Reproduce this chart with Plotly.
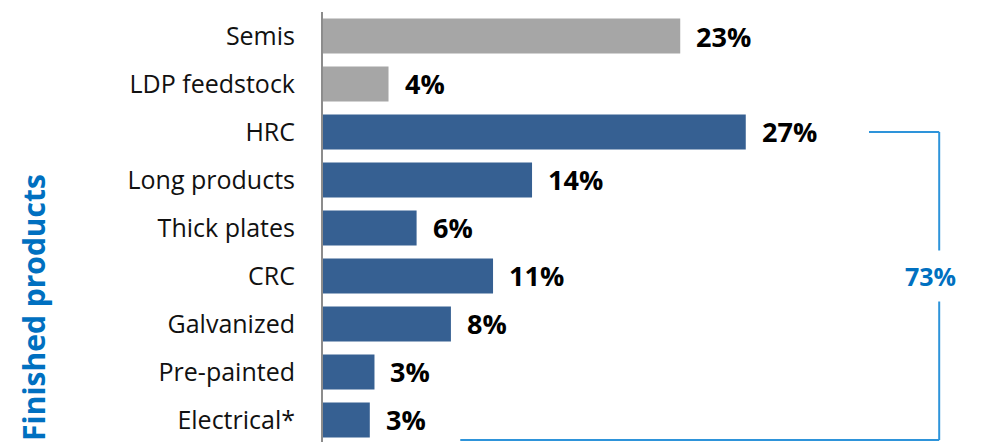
import plotly.graph_objects as go

categories = ["Semis", "LDP feedstock", "HRC", "Long products", "Thick plates",
              "CRC", "Galvanized", "Pre-painted", "Electrical*"]
values = [22.9, 4.2, 27.1, 13.4, 6.0, 10.9, 8.2, 3.3, 3.0]
value_labels = ["23%", "4%", "27%", "14%", "6%", "11%", "8%", "3%", "3%"]
groups = ["other", "other", "fin", "fin", "fin", "fin", "fin", "fin", "fin"]
total_label = "73%"
group_title = "Finished products"

GRAY = "#A6A6A6"
BLUE = "#366092"
LBLUE = "#2E94DA"
TBLUE = "#0070C0"
FONT = "Open Sans"

colors = [GRAY if g == "other" else BLUE for g in groups]

fig = go.Figure()
fig.add_trace(go.Bar(
    y=categories, x=values, orientation="h",
    marker=dict(color=colors, line=dict(width=0)),
    hoverinfo="skip",
))

for c, v, t in zip(categories, values, value_labels):
    fig.add_annotation(x=v, y=c, text=t, xanchor="left", yanchor="middle",
                       xshift=14, showarrow=False,
                       font=dict(family=FONT, size=27, color="#000000", weight="bold"))

# bracket for finished products
first_fin = groups.index("fin")
x_right = 39.5
x_top_left = 35.0
x_bot_left = 8.8
y_bottom = 8.42
line = dict(color=LBLUE, width=2)
fig.add_shape(type="line", x0=x_top_left, x1=x_right, y0=first_fin, y1=first_fin, line=line)
fig.add_shape(type="line", x0=x_right, x1=x_right, y0=first_fin, y1=y_bottom, line=line)
fig.add_shape(type="line", x0=x_bot_left, x1=x_right, y0=y_bottom, y1=y_bottom, line=line)
fig.add_annotation(x=x_right, y=5.0, text=total_label, showarrow=False,
                   xanchor="center", yanchor="middle", bgcolor="white",
                   borderpad=8, xshift=-9,
                   font=dict(family=FONT, size=25, color=TBLUE, weight="bold"))

fig.add_annotation(xref="paper", yref="paper", x=-0.463, y=0.312, text=group_title,
                   textangle=-90, showarrow=False, xanchor="center", yanchor="middle",
                   font=dict(family=FONT, size=30, color=TBLUE, weight="bold"))

fig.update_layout(
    width=987, height=442,
    margin=dict(l=315, r=48, t=4, b=8, pad=0),
    paper_bgcolor="white", plot_bgcolor="white",
    bargap=0.27, showlegend=False,
    xaxis=dict(range=[0, 40], visible=False, showgrid=False, zeroline=False),
    yaxis=dict(range=[8.46, -0.5], showgrid=False, zeroline=False,
               showline=True, linecolor="#8C8C8C", linewidth=2,
               ticks="", ticklabelstandoff=21,
               tickfont=dict(family=FONT, size=25, color="#111111")),
)

fig.write_html("out.html")
